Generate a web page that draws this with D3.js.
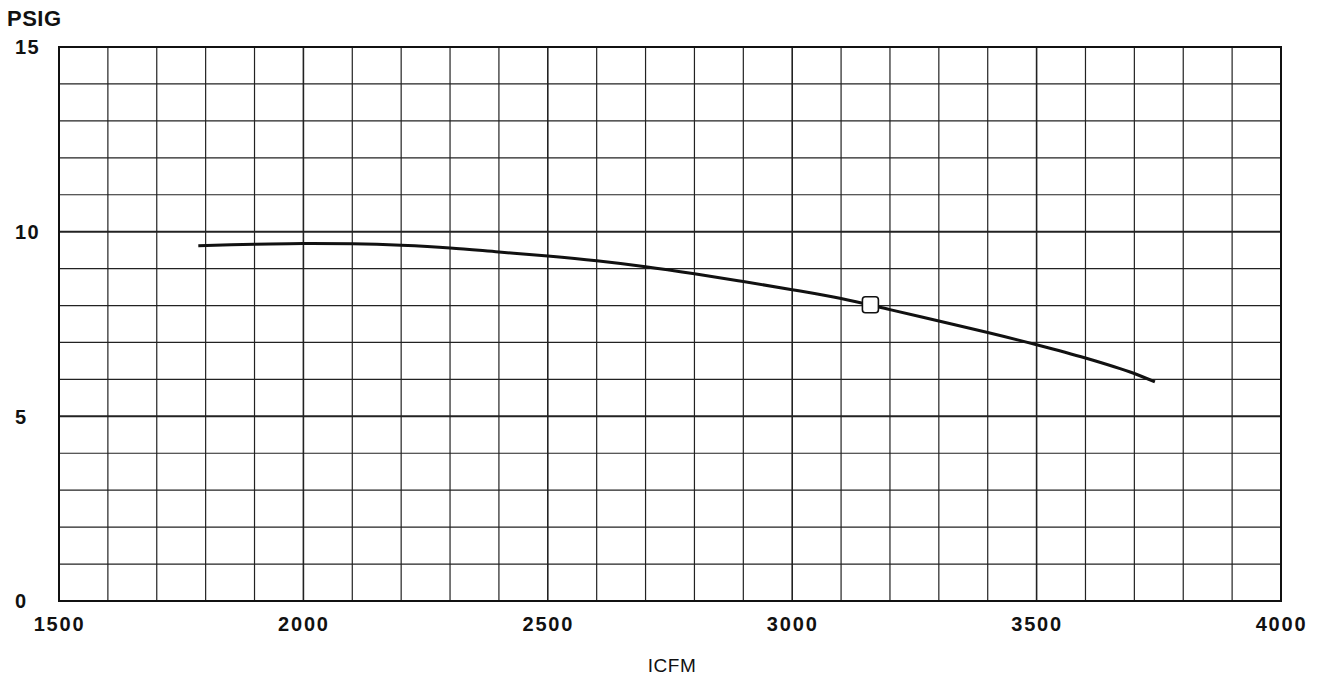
<!DOCTYPE html>
<html>
<head>
<meta charset="utf-8">
<script src="https://cdn.jsdelivr.net/npm/d3@7"></script>
<style>
  body { margin: 0; background: #fff; }
  text { font-family: "Liberation Sans", Arial, sans-serif; font-weight: bold; fill: #111; }
</style>
</head>
<body>
<script>
// curve
const flow = [1785, 1900, 2000, 2100, 2200, 2300, 2400, 2500, 2600, 2700, 2800, 2900, 3000, 3100, 3200, 3300, 3400, 3500, 3600, 3700, 3742];
const psig = [9.62, 9.66, 9.68, 9.67, 9.63, 9.56, 9.45, 9.34, 9.21, 9.05, 8.86, 8.65, 8.43, 8.19, 7.89, 7.58, 7.27, 6.94, 6.58, 6.16, 5.93];

// operating point (square marker)
const opFlow = [3160];
const opPsig = [8.02];

const xTicks = [1500, 2000, 2500, 3000, 3500, 4000];
const yTicks = [0, 5, 10, 15];

const width = 1321, height = 677;
const mLeft = 59, mRight = 1281, mTop = 47, mBottom = 601;

const svg = d3.select("body").append("svg")
  .attr("width", width)
  .attr("height", height);

const x = d3.scaleLinear().domain([1500, 4000]).range([mLeft, mRight]);
const y = d3.scaleLinear().domain([0, 15]).range([mBottom, mTop]);

// grid, every 100 icfm and every 1 psig
const grid = svg.append("g");
grid.selectAll(".vline")
  .data(d3.range(1600, 4000, 100))
  .enter().append("line")
  .attr("x1", d => x(d)).attr("x2", d => x(d))
  .attr("y1", mTop).attr("y2", mBottom)
  .attr("stroke", "#222")
  .attr("stroke-width", d => d % 500 === 0 ? 1.6 : 1.2);

grid.selectAll(".hline")
  .data(d3.range(1, 15, 1))
  .enter().append("line")
  .attr("x1", mLeft).attr("x2", mRight)
  .attr("y1", d => y(d)).attr("y2", d => y(d))
  .attr("stroke", "#222")
  .attr("stroke-width", d => d % 5 === 0 ? 2 : 1.2);

svg.append("rect")
  .attr("x", mLeft).attr("y", mTop)
  .attr("width", mRight - mLeft).attr("height", mBottom - mTop)
  .attr("fill", "none")
  .attr("stroke", "#111")
  .attr("stroke-width", 2);

// x labels
const xAxis = d3.axisBottom(x).tickValues(xTicks).tickFormat(d3.format("d")).tickSize(0).tickPadding(0);
const gx = svg.append("g")
  .attr("transform", `translate(0, ${mBottom})`)
  .call(xAxis);
gx.select(".domain").remove();
gx.selectAll("text")
  .attr("y", 30)
  .attr("dy", 0)
  .style("font-size", "20px")
  .style("font-family", "'Liberation Sans', Arial, sans-serif")
  .style("font-weight", "bold")
  .style("letter-spacing", "1.8px")
  .attr("fill", "#111");

// y labels
const gy = svg.append("g");
gy.selectAll("text")
  .data(yTicks)
  .enter().append("text")
  .attr("x", 15)
  .attr("y", d => y(d))
  .attr("dy", "0.36em")
  .style("font-size", "20px")
  .style("letter-spacing", "1.5px")
  .text(d => d);

svg.append("text")
  .attr("x", 7)
  .attr("y", 26)
  .style("font-size", "22px")
  .style("letter-spacing", "0.5px")
  .text("PSIG");

svg.append("text")
  .attr("x", (mLeft + mRight) / 2 + 2)
  .attr("y", 672)
  .attr("text-anchor", "middle")
  .style("font-size", "19px")
  .style("font-weight", "normal")
  .style("letter-spacing", "0.5px")
  .text("ICFM");

// pump curve
const pts = flow.map((f, i) => [f, psig[i]]);
const line = d3.line()
  .x(d => x(d[0]))
  .y(d => y(d[1]))
  .curve(d3.curveCatmullRom.alpha(0.5));

svg.append("path")
  .datum(pts)
  .attr("d", line)
  .attr("fill", "none")
  .attr("stroke", "#111")
  .attr("stroke-width", 3);

svg.selectAll(".op")
  .data(opFlow.map((f, i) => [f, opPsig[i]]))
  .enter().append("rect")
  .attr("x", d => x(d[0]) - 8)
  .attr("y", d => y(d[1]) - 8)
  .attr("width", 16).attr("height", 16)
  .attr("rx", 3)
  .attr("fill", "#fff")
  .attr("stroke", "#111")
  .attr("stroke-width", 1.6);
</script>
</body>
</html>
